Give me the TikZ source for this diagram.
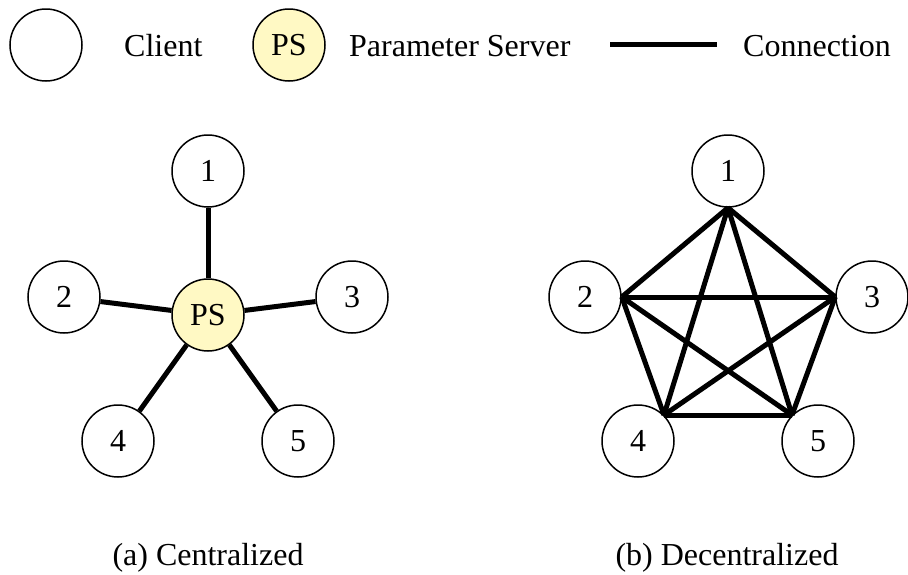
\documentclass[tikz,border=0pt]{standalone}
\usepackage{fontspec}
\setmainfont{Liberation Serif}
\usepackage{tikz}
\usetikzlibrary{positioning}
\definecolor{psyellow}{RGB}{255,249,196}

\begin{document}
\begin{tikzpicture}
            [x=1pt,y=-1pt,
            font=\fontsize{32}{38}\selectfont,
            client/.style={circle,draw,line width=1.5pt,minimum size=72pt,inner sep=0pt,text centered},
            ps/.style={client,fill=psyellow},
            conn/.style={line width=5pt},
            lbl/.style={anchor=base west,inner sep=0pt}]
            \useasboundingbox (0,0) rectangle (908,574);
            % legend
            \node[client] (legc) at (46,45) {};
            \node[lbl] (legctext) at (124,56) {Client};
            \node[ps] (legps) at (289,45) {PS};
            \node[lbl] (legpstext) at (349,56) {Parameter Server};
            \coordinate (legla) at (610,44);
            \coordinate (leglb) at (717,44);
            \draw[conn] (legla) -- (leglb);
            \node[lbl] (legltext) at (743,56) {Connection};
            % (a) centralized
            \node[ps] (ps) at (208,315) {PS};
            \node[client] (a1) at (208,171) {1};
            \node[client] (a2) at (64,297) {2};
            \node[client] (a3) at (352,297) {3};
            \node[client] (a4) at (118,441) {4};
            \node[client] (a5) at (298,441) {5};
            \foreach \i in {1,...,5}
                \draw[conn] (ps) -- (a\i);
            \node[inner sep=0pt,anchor=base] (capa) at (208,565) {(a) Centralized};
            % (b) decentralized
            \node[client] (b1) at (728,171) {1};
            \node[client] (b2) at (585,297) {2};
            \node[client] (b3) at (872,297) {3};
            \node[client] (b4) at (638,441) {4};
            \node[client] (b5) at (818,441) {5};
            \draw[conn] (b1.south) -- (b2.east);
            \draw[conn] (b1.south) -- (b3.west);
            \draw[conn] (b1.south) -- (b4.45);
            \draw[conn] (b1.south) -- (b5.135);
            \draw[conn] (b2.east) -- (b3.west);
            \draw[conn] (b2.east) -- (b4.45);
            \draw[conn] (b2.east) -- (b5.135);
            \draw[conn] (b3.west) -- (b4.45);
            \draw[conn] (b3.west) -- (b5.135);
            \draw[conn] (b4.45) -- (b5.135);
            \node[inner sep=0pt,anchor=base] (capb) at (727,565) {(b) Decentralized};
        \end{tikzpicture}
\end{document}
